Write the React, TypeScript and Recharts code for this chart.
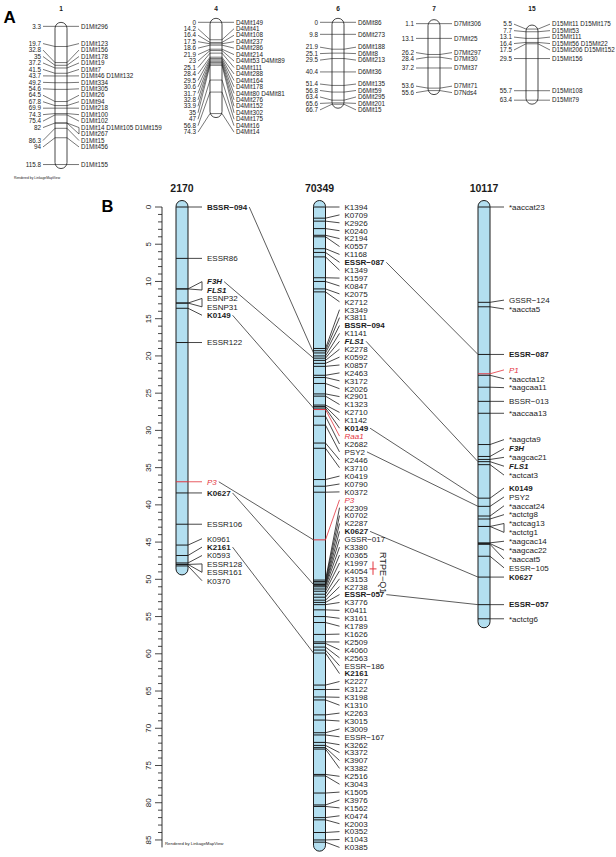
import React from "react";
import { ScatterChart, Scatter, XAxis, YAxis, ReferenceArea, ReferenceLine, ReferenceDot } from "recharts";

const FONT = "'Liberation Sans', Arial, Helvetica, sans-serif";
const INK = "#1b1b1b";
const LINK = "#333333";
const RED_C = "#e3343e";
const BLUE = "#b3dff0";

// ---------------- Panel A: mouse chromosomes (cM / marker names) ----------------
const A_CHROMS = ["1", "4", "6", "7", "15"];

const CHR1_CM = [3.3, 19.7, 32.8, 35, 37.2, 41.5, 43.7, 49.2, 54.6, 64.5, 67.8, 69.9, 74.3, 75.4, 82, 82, 86.3, 94, 115.8];
const CHR1_MARKERS = ["D1Mit296", "D1Mit123", "D1Mit156", "D1Mit178", "D1Mit19", "D1Mit7", "D1Mit46 D1Mit132", "D1Mit334", "D1Mit305", "D1Mit26", "D1Mit94", "D1Mit218", "D1Mit100", "D1Mit102", "D1Mit14 D1Mit105 D1Mit159", "D1Mit267", "D1Mit15", "D1Mit456", "D1Mit155"];

const CHR4_CM = [0, 14.2, 16.4, 17.5, 18.6, 21.9, 23, 25.1, 28.4, 29.5, 30.6, 31.7, 32.8, 33.9, 35, 47, 56.8, 74.3];
const CHR4_MARKERS = ["D4Mit149", "D4Mit41", "D4Mit108", "D4Mit237", "D4Mit286", "D4Mit214", "D4Mit53 D4Mit89", "D4Mit111", "D4Mit288", "D4Mit164", "D4Mit178", "D4Mit80 D4Mit81", "D4Mit276", "D4Mit152", "D4Mit302", "D4Mit175", "D4Mit16", "D4Mit14"];

const CHR6_CM = [0, 9.8, 21.9, 25.1, 29.5, 40.4, 51.4, 56.8, 63.4, 65.6, 66.7];
const CHR6_MARKERS = ["D6Mit86", "D6Mit273", "D6Mit188", "D6Mit8", "D6Mit213", "D6Mit36", "D6Mit135", "D6Mit59", "D6Mit295", "D6Mit201", "D6Mit15"];

const CHR7_CM = [1.1, 13.1, 26.2, 28.4, 37.2, 53.6, 55.6];
const CHR7_MARKERS = ["D7Mit306", "D7Mit25", "D7Mit297", "D7Mit30", "D7Mit37", "D7Mit71", "D7Nds4"];

const CHR15_CM = [5.5, 7.7, 13.1, 16.4, 17.5, 29.5, 55.7, 63.4];
const CHR15_MARKERS = ["D15Mit11 D15Mit175", "D15Mit53", "D15Mit111", "D15Mit56 D15Mit22", "D15Mit206 D15Mit152", "D15Mit156", "D15Mit108", "D15Mit79"];

// ---------------- Panel B: linkage groups ----------------
const B_GROUPS = ["2170", "70349", "10117"];

const LG2170_MARKERS = ["BSSR-094", "ESSR86", "F3H", "FLS1", "ESNP32", "ESNP31", "K0149", "ESSR122", "P3", "K0627", "ESSR106", "K0961", "K2161", "K0593", "ESSR128", "ESSR161", "K0370"];
const LG2170_CM = [0, 6.9, 11.0, 11.0, 12.9, 12.9, 13.6, 18.2, 36.9, 38.4, 42.6, 45.4, 46.8, 47.8, 48.0, 48.0, 48.2];

const LG70349_MARKERS = [
  "K1394", "K0709", "K2926", "K0240", "K2194", "K0557", "K1168", "ESSR-087", "K1349", "K1597", "K0847", "K2075", "K2712",
  "K3349", "K3811", "BSSR-094", "K1141", "FLS1", "K2278", "K0592", "K0857", "K2463", "K3172", "K2026",
  "K2901", "K1323", "K2710", "K1142", "K0149", "Raa1", "K2682", "PSY2", "K2446", "K3710",
  "K0419", "K0790", "K0372", "P3",
  "K2309", "K0702", "K2287", "K0627", "GSSR-017", "K3380", "K0365", "K1997", "K4054", "K3153", "K2738", "ESSR-057", "K3776", "K0411", "K3161", "K1789",
  "K1626", "K2509", "K4060", "K2563", "ESSR-186", "K2161",
  "K2227", "K3122", "K3198", "K1310", "K2263", "K3015", "K3009", "ESSR-167", "K3262", "K3372", "K3907", "K3382",
  "K2516", "K3043", "K1505", "K3976", "K1562", "K0474", "K2003", "K0352", "K1043", "K0385",
];
const LG70349_CM = [
  0, 1.5, 1.9, 2.9, 3.8, 4.0, 5.6, 6.1, 6.7, 9.5, 10.0, 11.0, 11.4,
  19.0, 19.3, 19.6, 20.0, 20.3, 20.6, 21.0, 21.4, 22.6, 22.9, 23.7,
  25.1, 25.4, 26.6, 26.8, 27.0, 27.2, 28.1, 29.3, 31.7, 32.4,
  36.6, 37.5, 38.3, 44.7,
  50.1, 50.3, 50.5, 50.7, 50.8, 51.0, 51.3, 51.6, 52.0, 52.4, 52.8, 53.1, 53.4, 54.1, 55.0, 55.8,
  57.4, 58.4, 58.6, 59.1, 59.5, 59.9,
  64.2, 64.8, 65.8, 66.2, 68.2, 68.9, 70.6, 70.9, 71.9, 72.3, 72.6, 72.8,
  76.2, 76.4, 78.7, 80.3, 80.5, 82.0, 82.3, 84.0, 85.0, 85.3,
];

const LG10117_MARKERS = ["*aaccat23", "GSSR-124", "*aaccta5", "ESSR-087", "P1", "*aaccta12", "*aagcaa11", "BSSR-013", "*aaccaa13", "*aagcta9", "F3H", "*aagcac21", "FLS1", "*actcat3", "K0149", "PSY2", "*aaccat24", "*actctg8", "*actcag13", "*actctg1", "*aagcac14", "*aagcac22", "*aaccat5", "ESSR-105", "K0627", "ESSR-057", "*actctg6"];
const LG10117_CM = [0, 12.8, 13.4, 19.8, 22.4, 22.6, 24.2, 26.1, 27.7, 31.9, 33.5, 33.9, 34.2, 34.6, 39.1, 40.2, 41.5, 41.9, 42.9, 42.9, 45.1, 45.2, 45.3, 46.9, 49.7, 53.4, 55.3];

// shared markers drawn between neighbouring groups
const LINKS_2170_70349 = [["BSSR-094", "BSSR-094"], ["F3H", "FLS1"], ["K0149", "K0149"], ["P3", "P3"], ["K0627", "K0627"], ["K2161", "K2161"]];
const LINKS_70349_10117 = [["ESSR-087", "ESSR-087"], ["FLS1", "FLS1"], ["K0149", "K0149"], ["PSY2", "PSY2"], ["K0627", "K0627"], ["ESSR-057", "ESSR-057"]];

const QTL_NAMES = ["RTPE-Q1"];
const QTL_FROM = [47.6];
const QTL_TO = [49.4];
const QTL_PEAK = [48.6];

const MAJOR_TICKS = [0, 5, 10, 15, 20, 25, 30, 35, 40, 45, 50, 55, 60, 65, 70, 75, 80, 85];
const B_TICKS = Array.from({ length: 86 }, (_, i) => i);

// label styles
const BOLD = new Set(["BSSR-094", "K0149", "K0627", "K2161", "ESSR-087", "ESSR-057", "F3H", "FLS1"]);
const ITALIC = new Set(["F3H", "FLS1", "P3", "Raa1", "P1"]);
const RED = new Set(["P3", "Raa1", "P1"]);

// ---------------- layout ----------------
const W = 616;
const A_H = 185, A_TOP = 22.3, A_BOTTOM = 15.3, A_MAX = 120;
const A_PX = (A_H - A_TOP - A_BOTTOM) / A_MAX;
const A_X = [61, 216, 338, 434, 532];
const A_HALF = 6, A_CONN = 12, A_TXT = 2, A_CAP = 4, A_GAP = 6.46, A_FONT = 6.3;

const B_H = 672, B_TOP = 22, B_BOTTOM = 9.6, B_MAX = 86;
const B_PX = (B_H - B_TOP - B_BOTTOM) / B_MAX;
const B_AXIS_X = 162;
const B_X = [182, 319.5, 484];
const B_GAP = [8.4, 7.9, 8.86];
const B_HALF = 6, B_CONN = 14, B_TXT = 5, B_FONT = 8;
const B_QTL_X = 373;

const display = (s: string) => s.replace(/-/g, "\u2212");

let ctx: CanvasRenderingContext2D | null = null;
function textWidth(text: string, size: number, bold: boolean, italic: boolean) {
  if (!ctx) ctx = document.createElement("canvas").getContext("2d");
  if (!ctx) return text.length * size * 0.55;
  ctx.font = `${italic ? "italic " : ""}${bold ? "bold " : ""}${size}px 'Liberation Sans'`;
  return ctx.measureText(text).width;
}

// spread labels so they keep a min gap; each cluster centred on its markers, kept inside [lo, hi]
function spread(pos: number[], gap: number, lo: number, hi: number) {
  const fit = (s: number, n: number) => {
    let sum = 0;
    for (let k = 0; k < n; k++) sum += pos[s + k] - k * gap;
    const top = Math.min(sum / n, hi - (n - 1) * gap);
    return Math.max(top, lo);
  };
  const cs = pos.map((_, i) => ({ s: i, n: 1, top: fit(i, 1) }));
  for (let i = 0; i < cs.length - 1; ) {
    const a = cs[i], b = cs[i + 1];
    if (a.top + a.n * gap > b.top + 1e-9) {
      cs.splice(i, 2, { s: a.s, n: a.n + b.n, top: fit(a.s, a.n + b.n) });
      i = Math.max(i - 1, 0);
    } else i++;
  }
  const out: number[] = [];
  cs.forEach((c) => {
    for (let k = 0; k < c.n; k++) out.push(c.top + k * gap);
  });
  return out;
}

function groupsOf(cm: number[]) {
  const out: number[][] = [];
  cm.forEach((v, i) => {
    const last = out[out.length - 1];
    if (last && cm[last[0]] === v) last.push(i);
    else out.push([i]);
  });
  return out;
}

const seg = (key: string, x1: number, y1: number, x2: number, y2: number, stroke: string, w: number) => (
  <ReferenceLine key={key} segment={[{ x: x1, y: y1 }, { x: x2, y: y2 }]} stroke={stroke} strokeWidth={w} ifOverflow="visible" />
);

const pill = (capTop: number, capBot: number, fill: string, sw: number) => (p: any) => {
  const y = Math.min(p.y, p.y + p.height);
  const h = Math.abs(p.height);
  return (
    <rect x={p.x} y={y - capTop} width={p.width} height={h + capTop + capBot} rx={p.width / 2} ry={p.width / 2}
      fill={fill} stroke={INK} strokeWidth={sw} />
  );
};

const band = (half: number, sw: number) => (p: any) => (
  <line x1={p.cx - half} x2={p.cx + half} y1={p.cy} y2={p.cy}
    stroke={RED.has(p.payload?.name) ? RED_C : INK} strokeWidth={sw} />
);

function label(key: string, x: number, y: number, text: string, size: number, anchor: "start" | "end", name: string | null) {
  const bold = !!name && BOLD.has(name);
  const italic = !!name && ITALIC.has(name);
  const red = !!name && RED.has(name);
  return (
    <ReferenceDot key={key} x={x} y={y} r={1} ifOverflow="visible"
      shape={(p: any) => (
        <text x={p.cx} y={p.cy} dy="0.35em" fontSize={size} fontFamily={FONT} textAnchor={anchor}
          fontWeight={bold ? 700 : 400} fontStyle={italic ? "italic" : "normal"} fill={red ? RED_C : INK}>
          {text}
        </text>
      )} />
  );
}

function sideConnectors(key: string, cm: number[], labelCm: number[], names: string[], edge: number, conn: number, dir: number, w: number, triangles: boolean) {
  const els: React.ReactElement[] = [];
  groupsOf(cm).forEach((g, gi) => {
    const i0 = g[0], i1 = g[g.length - 1];
    const col = g.some((i) => RED.has(names[i])) ? RED_C : INK;
    const xe = edge + dir * conn;
    if (g.length > 1 && triangles) {
      els.push(seg(`${key}-t${gi}a`, edge, cm[i0], xe, labelCm[i0], col, w));
      els.push(seg(`${key}-t${gi}b`, edge, cm[i0], xe, labelCm[i1], col, w));
      els.push(seg(`${key}-t${gi}c`, xe, labelCm[i0], xe, labelCm[i1], col, w));
    } else {
      els.push(seg(`${key}-c${gi}`, edge, cm[i0], xe, labelCm[i0], col, w));
    }
  });
  return els;
}

function buildA() {
  const chroms = [
    { cm: CHR1_CM, names: CHR1_MARKERS },
    { cm: CHR4_CM, names: CHR4_MARKERS },
    { cm: CHR6_CM, names: CHR6_MARKERS },
    { cm: CHR7_CM, names: CHR7_MARKERS },
    { cm: CHR15_CM, names: CHR15_MARKERS },
  ];
  const els: React.ReactElement[] = [];
  chroms.forEach((c, ci) => {
    const cx = A_X[ci];
    const key = `a${ci}`;
    const labelCm = spread(c.cm, A_GAP / A_PX, 0, A_MAX);
    els.push(
      <ReferenceArea key={`${key}-bar`} x1={cx - A_HALF} x2={cx + A_HALF} y1={c.cm[0]} y2={c.cm[c.cm.length - 1]}
        ifOverflow="visible" shape={pill(A_CAP, A_CAP, "#ffffff", 0.8)} />
    );
    els.push(
      <Scatter key={`${key}-bands`} data={c.cm.map((y, i) => ({ x: cx, y, name: c.names[i] }))}
        isAnimationActive={false} shape={band(A_HALF, 0.6)} />
    );
    els.push(...sideConnectors(`${key}-r`, c.cm, labelCm, c.names, cx + A_HALF, A_CONN, 1, 0.6, true));
    els.push(...sideConnectors(`${key}-l`, c.cm, labelCm, c.names, cx - A_HALF, A_CONN, -1, 0.6, false));
    groupsOf(c.cm).forEach((g) =>
      g.forEach((i, k) => {
        els.push(label(`${key}-n${i}`, cx + A_HALF + A_CONN + A_TXT, labelCm[i], c.names[i], A_FONT, "start", null));
        if (k === 0) els.push(label(`${key}-p${i}`, cx - A_HALF - A_CONN - A_TXT, labelCm[i], String(c.cm[i]), A_FONT, "end", null));
      })
    );
  });
  return els;
}

function buildB() {
  const chroms = [
    { cm: LG2170_CM, names: LG2170_MARKERS },
    { cm: LG70349_CM, names: LG70349_MARKERS },
    { cm: LG10117_CM, names: LG10117_MARKERS },
  ].map((c, ci) => ({
    ...c,
    cx: B_X[ci],
    labelCm: spread(c.cm, B_GAP[ci] / B_PX, 0, B_MAX),
    textX: B_X[ci] + B_HALF + B_CONN + B_TXT,
  }));
  const els: React.ReactElement[] = [];

  chroms.forEach((c, ci) => {
    const key = `b${ci}`;
    els.push(
      <ReferenceArea key={`${key}-bar`} x1={c.cx - B_HALF} x2={c.cx + B_HALF} y1={c.cm[0]} y2={c.cm[c.cm.length - 1]}
        ifOverflow="visible" shape={pill(6.5, 9, BLUE, 1)} />
    );
    els.push(
      <Scatter key={`${key}-bands`} data={c.cm.map((y, i) => ({ x: c.cx, y, name: c.names[i] }))}
        isAnimationActive={false} shape={band(B_HALF, 1)} />
    );
    els.push(...sideConnectors(`${key}-c`, c.cm, c.labelCm, c.names, c.cx + B_HALF, B_CONN, 1, 0.8, true));
    c.names.forEach((n, i) => els.push(label(`${key}-l${i}`, c.textX, c.labelCm[i], display(n), B_FONT, "start", n)));
  });

  const cross = (from: any, to: any, pairs: string[][], key: string) =>
    pairs.forEach(([a, b], k) => {
      const i = from.names.indexOf(a);
      const j = to.names.indexOf(b);
      if (i < 0 || j < 0) return;
      const x0 = from.textX + textWidth(display(a), B_FONT, BOLD.has(a), ITALIC.has(a)) + 2;
      els.push(seg(`${key}${k}`, x0, from.labelCm[i], to.cx - B_HALF, to.cm[j], LINK, 0.8));
    });
  cross(chroms[0], chroms[1], LINKS_2170_70349, "x1-");
  cross(chroms[1], chroms[2], LINKS_70349_10117, "x2-");

  QTL_NAMES.forEach((q, k) => {
    els.push(seg(`q${k}v`, B_QTL_X, QTL_FROM[k], B_QTL_X, QTL_TO[k], RED_C, 1));
    els.push(seg(`q${k}h`, B_QTL_X - 3.5, QTL_PEAK[k], B_QTL_X + 3.5, QTL_PEAK[k], RED_C, 1));
    els.push(
      <ReferenceDot key={`q${k}t`} x={B_QTL_X + 10} y={(QTL_FROM[k] + QTL_TO[k]) / 2 + 0.6} r={1} ifOverflow="visible"
        shape={(p: any) => (
          <text transform={`translate(${p.cx},${p.cy}) rotate(90)`} textAnchor="middle" dy="0.35em"
            fontSize={9} fontFamily={FONT} fill={INK}>
            {display(q)}
          </text>
        )} />
    );
  });
  return els;
}

function BTick(props: any) {
  const { x, y, payload } = props;
  const v = payload.value as number;
  const major = MAJOR_TICKS.includes(v);
  return (
    <g>
      <line x1={x - (major ? 7 : 4)} x2={x} y1={y} y2={y} stroke={INK} strokeWidth={0.8} />
      {major && (
        <text transform={`translate(${x - 14},${y}) rotate(-90)`} textAnchor="middle" dy="0.35em"
          fontSize={8} fontFamily={FONT} fill={INK}>
          {v}
        </text>
      )}
    </g>
  );
}

export default function App() {
  const aEls = buildA();
  const bEls = buildB();
  return (
    <div style={{ position: "relative", width: W, height: 857, background: "#fff", fontFamily: FONT }}>
      <style>{"body{margin:0;background:#fff}"}</style>
      <div style={{ position: "absolute", left: 0, top: 0 }}>
        <ScatterChart width={W} height={A_H} margin={{ top: A_TOP, right: 0, bottom: A_BOTTOM, left: 0 }}>
          <XAxis type="number" dataKey="x" domain={[0, W]} hide />
          <YAxis type="number" dataKey="y" domain={[0, A_MAX]} reversed hide />
          {aEls}
        </ScatterChart>
      </div>
      <div style={{ position: "absolute", left: 0, top: A_H }}>
        <ScatterChart width={W} height={B_H} margin={{ top: B_TOP, right: 0, bottom: B_BOTTOM, left: 0 }}>
          <XAxis type="number" dataKey="x" domain={[B_AXIS_X, W]} hide />
          <YAxis type="number" dataKey="y" domain={[0, B_MAX]} reversed width={B_AXIS_X} ticks={B_TICKS} interval={0}
            tick={<BTick />} tickLine={false} tickSize={0} tickMargin={0} axisLine={{ stroke: INK, strokeWidth: 0.9 }} />
          {bEls}
        </ScatterChart>
      </div>
      <svg width={W} height={857} style={{ position: "absolute", left: 0, top: 0, pointerEvents: "none" }}>
        <text x={3.5} y={22.7} fontSize={17} fontWeight={700} fontFamily={FONT} fill="#000">A</text>
        {A_CHROMS.map((t, i) => (
          <text key={t} x={A_X[i]} y={10.7} textAnchor="middle" fontSize={6.6} fontWeight={700} fontFamily={FONT} fill={INK}>{t}</text>
        ))}
        <text x={14} y={179} fontSize={3.4} fontFamily={FONT} fill={INK}>Rendered by LinkageMapView</text>
        <text x={101.5} y={211.5} fontSize={16.5} fontWeight={700} fontFamily={FONT} fill="#000">B</text>
        {B_GROUPS.map((t, i) => (
          <text key={t} x={B_X[i]} y={192} textAnchor="middle" fontSize={10.5} fontWeight={700} fontFamily={FONT} fill={INK}>{t}</text>
        ))}
        <text x={165} y={845} fontSize={4.3} fontFamily={FONT} fill={INK}>Rendered by LinkageMapView</text>
      </svg>
    </div>
  );
}
